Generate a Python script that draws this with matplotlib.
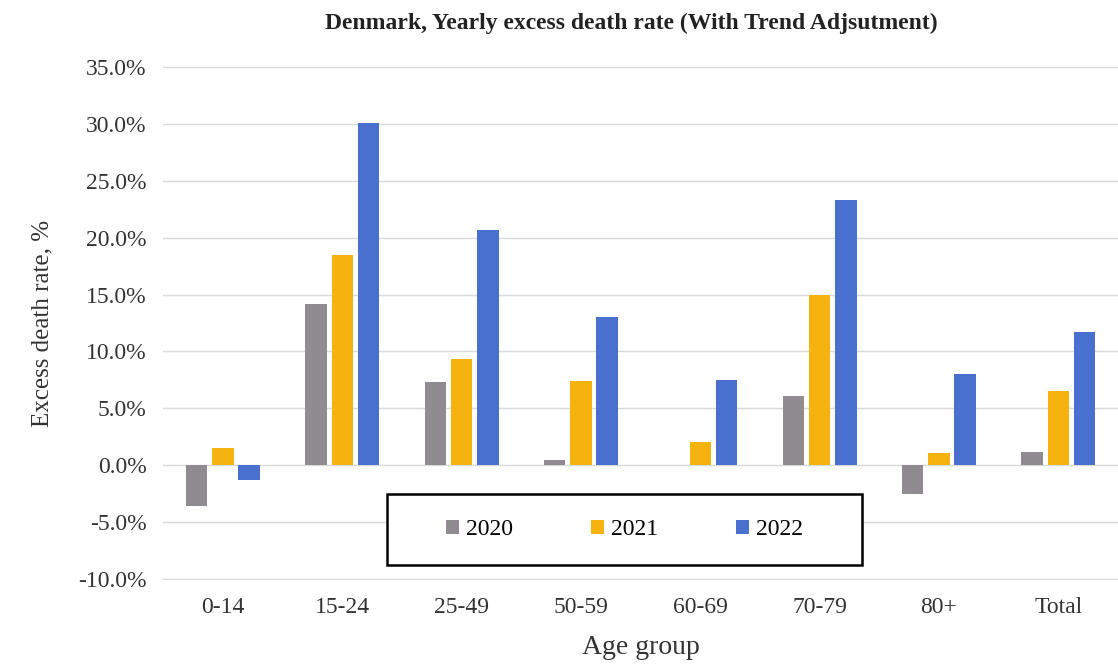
import numpy as np
import matplotlib.pyplot as plt
from matplotlib.ticker import FuncFormatter
from matplotlib.patches import Rectangle

# Data
groups = ["0-14", "15-24", "25-49", "50-59", "60-69", "70-79", "80+", "Total"]
rate_2020 = [-3.6, 14.2, 7.3, 0.5, 0.0, 6.1, -2.5, 1.2]
rate_2021 = [1.5, 18.5, 9.3, 7.4, 2.0, 15.0, 1.1, 6.5]
rate_2022 = [-1.3, 30.1, 20.7, 13.0, 7.5, 23.3, 8.0, 11.7]

plt.rcParams['font.family'] = ['Liberation Serif', 'DejaVu Serif']

fig = plt.figure(figsize=(11.18, 6.70), dpi=100)
ax = fig.add_axes([0.146, 0.134, 0.854, 0.767])

x = np.arange(len(groups))
w = 0.18
off = 0.22
ax.bar(x - off, rate_2020, w, color="#8f8b91", label="2020", zorder=3)
ax.bar(x, rate_2021, w, color="#f6b30f", label="2021", zorder=3)
ax.bar(x + off, rate_2022, w, color="#4a70cf", label="2022", zorder=3)

ax.set_ylim(-10.1, 35.05)
ax.set_xlim(-0.5, len(groups) - 0.5)
ax.set_yticks(np.arange(-10, 36, 5))
ax.yaxis.set_major_formatter(FuncFormatter(lambda v, p: f"{v:.1f}%"))
ax.set_xticks(x)
ax.set_xticklabels(groups)
ax.tick_params(axis='both', length=0, labelsize=17, colors="#333333", pad=12)
ax.grid(axis='y', color="#d9d9d9", linewidth=1, zorder=0)
for s in ax.spines.values():
    s.set_visible(False)

ax.set_ylabel("Excess death rate, %", fontsize=18, color="#333333", labelpad=18)
ax.set_xlabel("Age group", fontsize=20, color="#333333", labelpad=12)
fig.text(0.565, 0.965, "Denmark, Yearly excess death rate (With Trend Adjsutment)",
         ha='center', va='center', fontsize=17, fontweight='bold', color="#222222")

# legend box frame
ax.add_patch(Rectangle((0.2346, 0.029), 0.497, 0.138, transform=ax.transAxes,
                       facecolor="white", edgecolor="black", linewidth=1.8, zorder=4))
leg = ax.legend(loc='center', bbox_to_anchor=(0.2346 + 0.497 / 2, 0.029 + 0.138 / 2),
                ncol=3, fontsize=17, frameon=False,
                handlelength=0.55, handleheight=0.55, handletextpad=0.3,
                columnspacing=3.3)
leg.set_zorder(5)

fig.savefig("out.png", dpi=100)
